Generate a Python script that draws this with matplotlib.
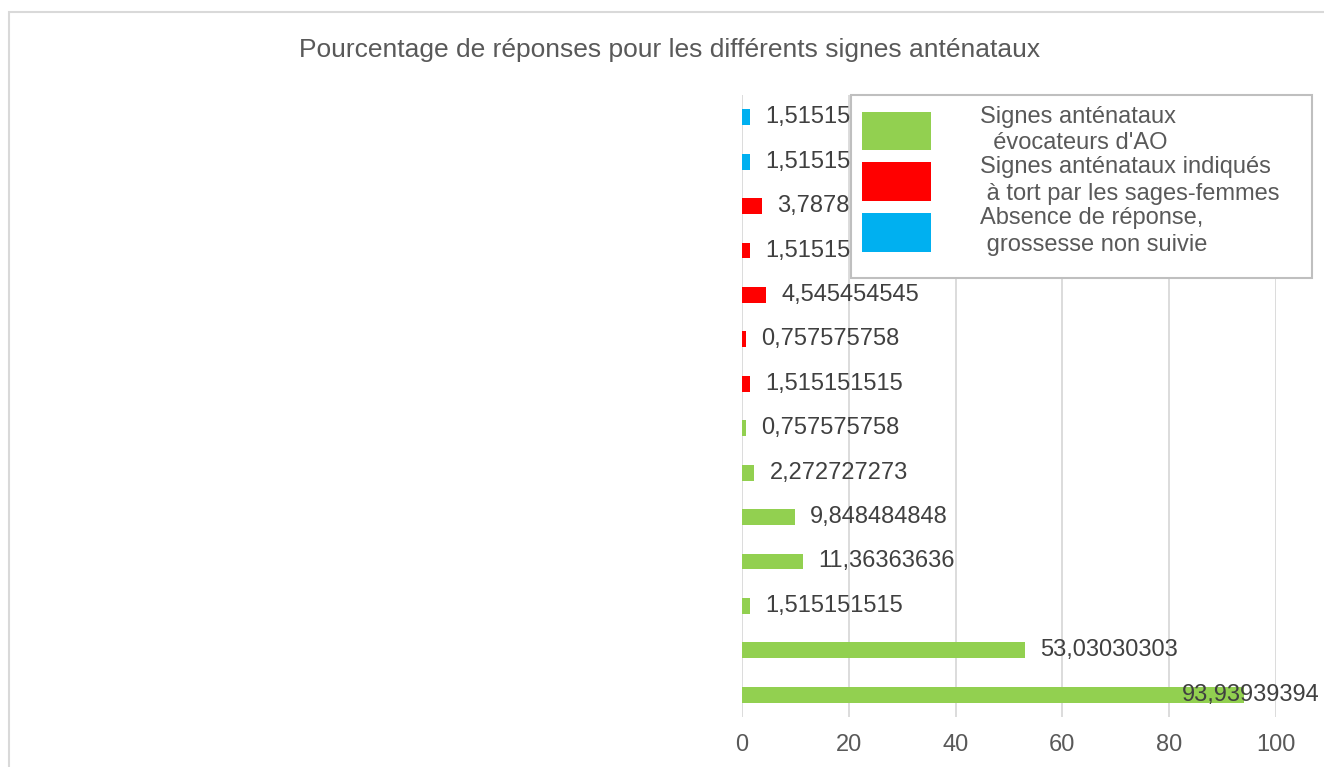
import matplotlib.pyplot as plt
from matplotlib.patches import Patch, Rectangle

plt.rcParams['font.family'] = ['Liberation Sans', 'DejaVu Sans']

TEXT_COLOR = '#595959'
GRID_COLOR = '#D9D9D9'

# Data (bottom to top, as drawn)
values = [93.93939394, 53.03030303, 1.515151515, 11.36363636, 9.848484848,
          2.272727273, 0.757575758, 1.515151515, 0.757575758, 4.545454545,
          1.515151515, 3.787878788, 1.515151515, 1.515151515]
groups = ['evoc', 'evoc', 'evoc', 'evoc', 'evoc', 'evoc', 'evoc',
          'tort', 'tort', 'tort', 'tort', 'tort', 'absent', 'absent']

group_colors = {'evoc': '#92D050', 'tort': '#FF0000', 'absent': '#00B0F0'}
legend_labels = {
    'evoc': "Signes anténataux\n  évocateurs d'AO",
    'tort': "Signes anténataux indiqués\n à tort par les sages-femmes",
    'absent': "Absence de réponse,\n grossesse non suivie",
}
x_ticks = [0, 20, 40, 60, 80, 100]

W, H = 1324, 767
fig = plt.figure(figsize=(W / 100, H / 100), dpi=100)

# light frame around the chart area
fig.patches.append(Rectangle((9 / W, -0.1), 1.2, 1 - 12 / H + 0.1,
                             transform=fig.transFigure, fill=False,
                             edgecolor=GRID_COLOR, linewidth=1.5))

ax = fig.add_axes([742 / W, 1 - 717 / H, (1276 - 742) / W, (717 - 95) / H])

y_pos = range(len(values))
colors = [group_colors[g] for g in groups]
ax.barh(y_pos, values, height=0.36, color=colors, zorder=2)

for i, v in enumerate(values):
    label = f'{v:.10g}'.replace('.', ',')
    if v > 90:
        # Excel pulled this one back inside the chart
        ax.annotate(label, (v, i), xytext=(55, 0), textcoords='offset points',
                    ha='right', va='center', fontsize=17, color='#404040',
                    zorder=3, annotation_clip=False)
    else:
        ax.annotate(label, (v, i), xytext=(11, 0), textcoords='offset points',
                    ha='left', va='center', fontsize=17, color='#404040',
                    zorder=3)

ax.set_xlim(0, 100)
ax.set_ylim(-0.5, len(values) - 0.5)
ax.set_xticks(x_ticks)
ax.set_xticklabels([str(t) for t in x_ticks])
ax.set_yticks([])
ax.tick_params(axis='x', length=0, pad=12, labelsize=17, labelcolor=TEXT_COLOR)
ax.grid(axis='x', color=GRID_COLOR, linewidth=1.3, zorder=0)
ax.set_axisbelow(True)
for s in ax.spines.values():
    s.set_visible(False)

fig.text(670 / W, 1 - 50 / H,
         'Pourcentage de réponses pour les différents signes anténataux',
         ha='center', va='center', fontsize=19, color=TEXT_COLOR)

# legend box (drawn separately so it can be wider than the text, like Excel)
box = Rectangle((851 / W, 1 - 278 / H), (1312 - 851) / W, (278 - 95) / H,
                transform=fig.transFigure, facecolor='white', edgecolor='#BFBFBF',
                linewidth=1.5, zorder=4, clip_on=False)
ax.add_patch(box)

handles = [Patch(facecolor=group_colors[g], label=legend_labels[g])
           for g in ['evoc', 'tort', 'absent']]
leg = ax.legend(handles=handles, loc='upper left',
                bbox_to_anchor=(851 / W, 1 - 95 / H), bbox_transform=fig.transFigure,
                borderaxespad=0, fontsize=17, frameon=False,
                handlelength=2.95, handleheight=2.15, handletextpad=2.05,
                labelspacing=0.1, borderpad=0.45, labelcolor=TEXT_COLOR)
for t in leg.get_texts():
    t.set_linespacing(1.26)
leg.set_zorder(5)

fig.savefig('out.png', dpi=100)
